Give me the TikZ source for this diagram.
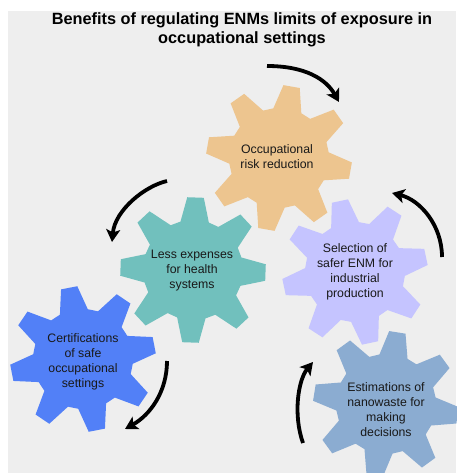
\documentclass[tikz,border=0pt]{standalone}
\usepackage{fontspec}
\setmainfont{Liberation Sans}
\usetikzlibrary{arrows.meta}

\definecolor{gearorange}{RGB}{237,197,143}
\definecolor{gearteal}{RGB}{113,192,189}
\definecolor{gearlavender}{RGB}{197,196,255}
\definecolor{gearblue}{RGB}{82,128,247}
\definecolor{gearsteel}{RGB}{139,172,209}
\definecolor{panelgray}{RGB}{238,238,238}
\definecolor{labeltext}{RGB}{25,25,25}

% eight-tooth gear: centre x, centre y, tooth offset (degrees), fill colour
\newcommand\drawgear[4]{%
  \begin{scope}[shift={(#1,#2)}]
    \fill[#4] ({-(#3)-16.5}:50)
      \foreach \k in {0,...,7}{
        -- ({45*\k-(#3)-16.5}:50) -- ({45*\k-(#3)-6.5}:73)
        -- ({45*\k-(#3)+6.5}:73) -- ({45*\k-(#3)+16.5}:50)
      } -- cycle;
  \end{scope}}

\tikzset{
  gearlabel/.style={align=center, inner sep=0pt, text=labeltext,
    font=\fontsize{12.3}{15}\selectfont},
  cyclearrow/.style={line width=3.8pt,
    -{Stealth[length=12.5pt,width=14pt,inset=3pt]}},
}

\begin{document}
\begin{tikzpicture}[x=1pt,y=-1pt]
  \useasboundingbox (0,0) rectangle (456,473);
  \fill[white] (0,0) rectangle (456,473);
  \fill[panelgray] (7.5,11) rectangle (456,473);

  % title
  \node[align=center, inner sep=0pt, font=\bfseries\fontsize{16.3}{18.7}\selectfont]
    (title) at (242,29.5)
    {Benefits of regulating ENMs limits of exposure in\\occupational settings};

  % gears
  \drawgear{279}{158}{-10}{gearorange}
  \drawgear{193}{270}{-2}{gearteal}
  \drawgear{355}{272}{12}{gearlavender}
  \drawgear{83}{359}{11}{gearblue}
  \drawgear{386}{404}{-9}{gearsteel}

  % gear labels
  \node[gearlabel] (risk) at (277,157) {Occupational\\risk reduction};
  \node[gearlabel] (expenses) at (192,271) {Less expenses\\for health\\systems};
  \node[gearlabel] (selection) at (355,272) {Selection of\\safer ENM for\\industrial\\production};
  \node[gearlabel] (certification) at (83,362) {Certifications\\of safe\\occupational\\settings};
  \node[gearlabel] (nanowaste) at (386,410) {Estimations of\\nanowaste for\\making\\decisions};

  % cycle arrows
  \coordinate (a1s) at (267,66);  \coordinate (a1e) at (339,102);
  \coordinate (a2s) at (167,181); \coordinate (a2e) at (112,242);
  \coordinate (a3s) at (442,257); \coordinate (a3e) at (392,193);
  \coordinate (a4s) at (167,361); \coordinate (a4e) at (125,429);
  \coordinate (a5s) at (303,443); \coordinate (a5e) at (313,362);

  \draw[cyclearrow] (a1s) .. controls (305,66) and (326,79) .. (a1e);
  \draw[cyclearrow] (a2s) .. controls (145,186) and (115,210) .. (a2e);
  \draw[cyclearrow] (a3s) .. controls (442,225) and (420,200) .. (a3e);
  \draw[cyclearrow] (a4s) .. controls (167,392) and (150,415) .. (a4e);
  \draw[cyclearrow] (a5s) .. controls (293,415) and (298,380) .. (a5e);
\end{tikzpicture}
\end{document}
